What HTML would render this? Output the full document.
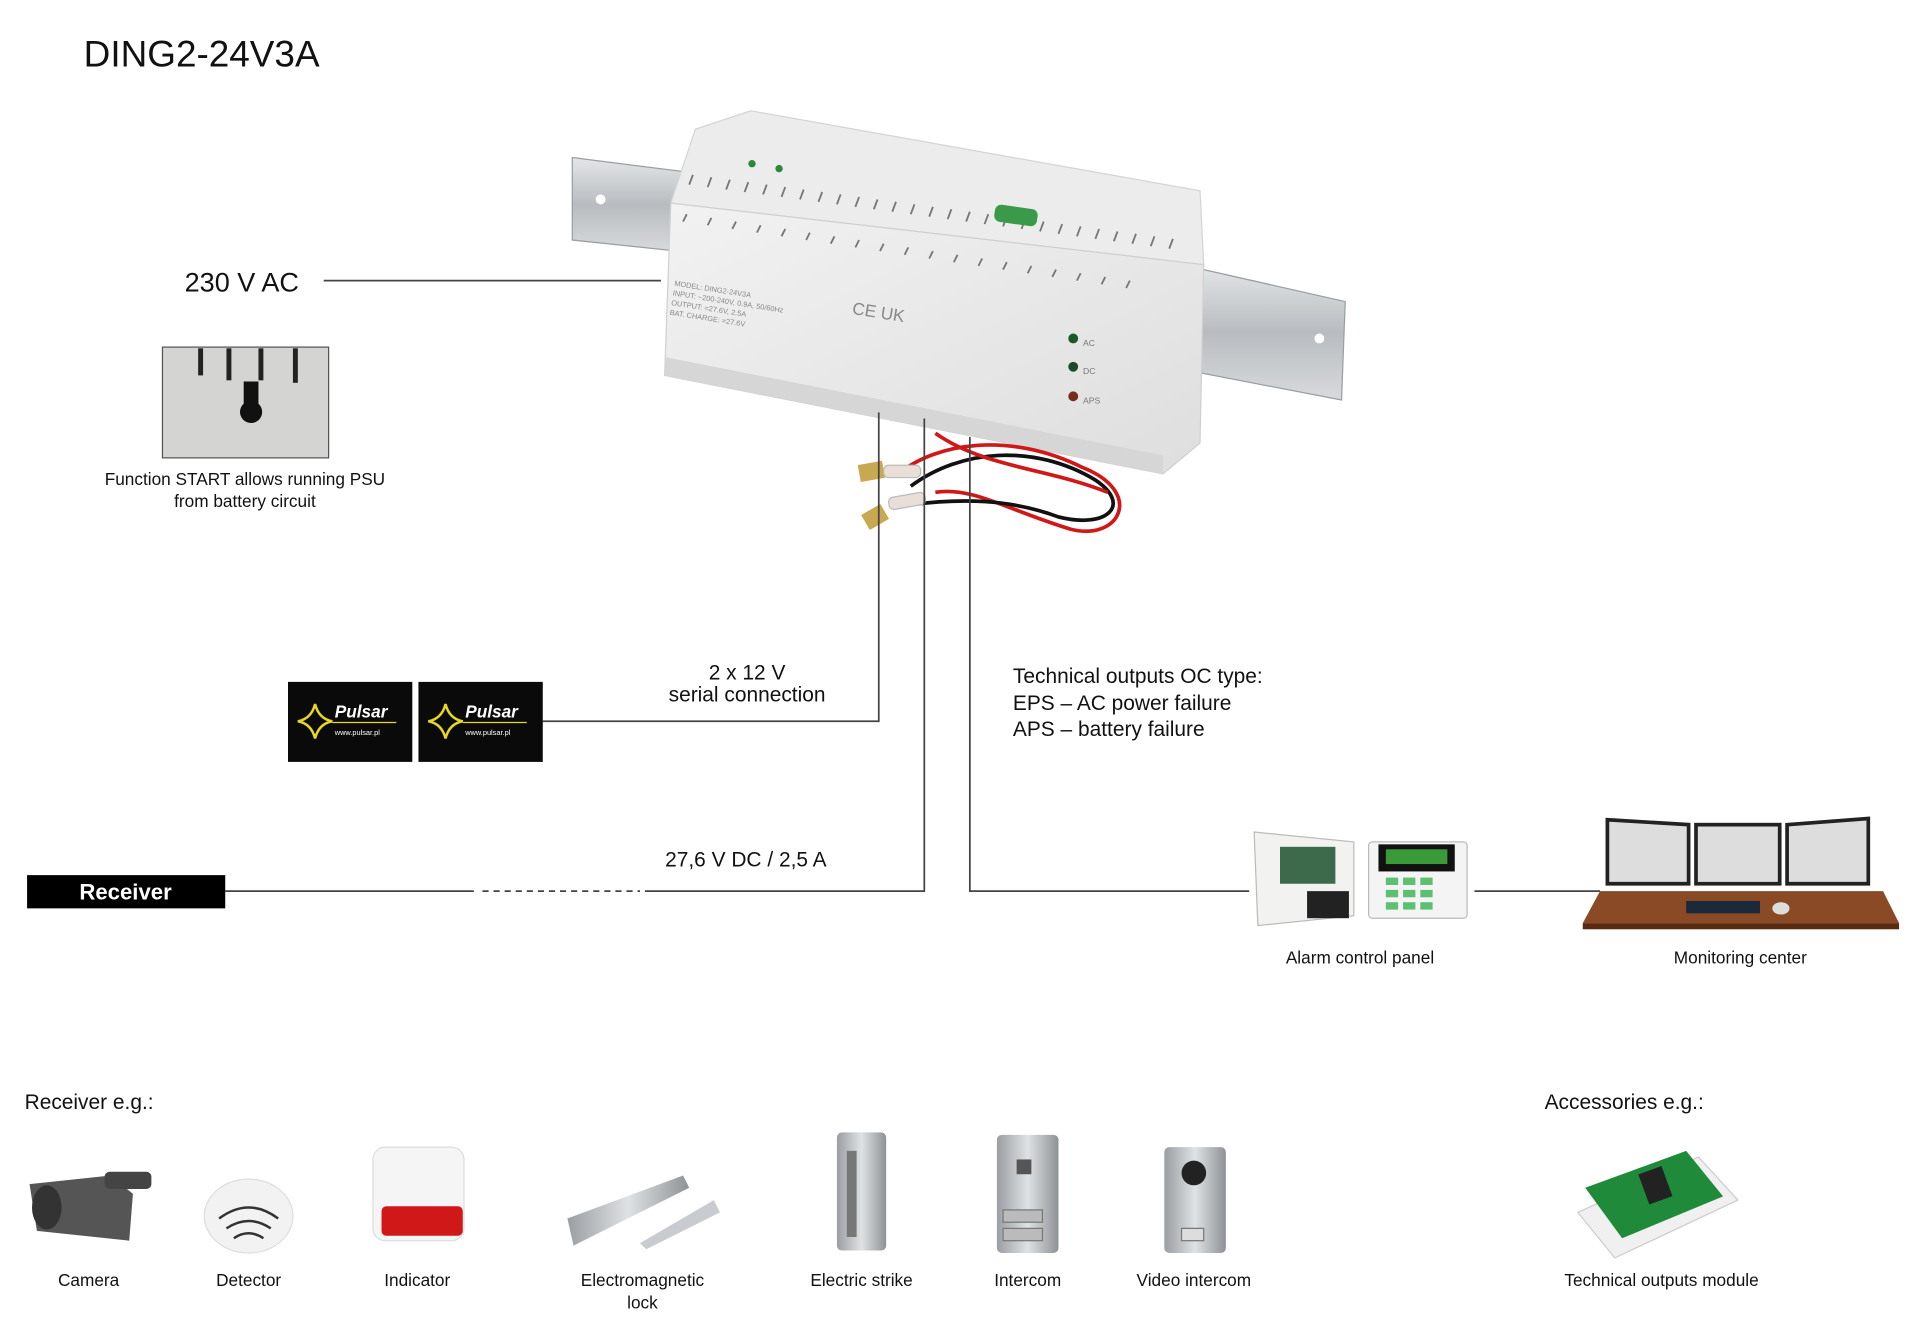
<!DOCTYPE html>
<html><head><meta charset="utf-8"><style>
html,body{margin:0;padding:0;background:#fff;}
svg{display:block;}
text{font-family:"Liberation Sans",sans-serif;fill:#111;}
</style></head><body>
<svg width="1920" height="1317" viewBox="0 0 1560 1070" preserveAspectRatio="none" xmlns="http://www.w3.org/2000/svg">
<defs>
<linearGradient id="rail" x1="0" y1="0" x2="0" y2="1"><stop offset="0" stop-color="#e4e6e8"/><stop offset=".5" stop-color="#b8bcc0"/><stop offset="1" stop-color="#d8dadc"/></linearGradient>
<linearGradient id="body" x1="0" y1="0" x2="1" y2="1"><stop offset="0" stop-color="#f2f2f2"/><stop offset="1" stop-color="#dedede"/></linearGradient>
<linearGradient id="metal" x1="0" y1="0" x2="1" y2="0"><stop offset="0" stop-color="#9a9ea2"/><stop offset=".5" stop-color="#dfe2e4"/><stop offset="1" stop-color="#8e9296"/></linearGradient>
</defs>
<text x="68" y="54" font-size="30">DING2-24V3A</text>

<!-- DIN rail -->
<polygon points="465,128 560,140 560,205 465,195" fill="url(#rail)" stroke="#9a9ea2"/>
<polygon points="960,215 1093,245 1090,325 960,300" fill="url(#rail)" stroke="#9a9ea2"/>
<circle cx="488" cy="162" r="4" fill="#fff"/><circle cx="1072" cy="275" r="4" fill="#fff"/>
<!-- PSU body -->
<polygon points="565,105 610,90 975,155 978,215 545,165" fill="#ececec" stroke="#d4d4d4"/>
<polygon points="545,165 978,215 975,360 945,385 540,305" fill="url(#body)" stroke="#d0d0d0"/>
<polygon points="540,290 945,370 945,385 540,305" fill="#d6d6d6"/>
<g stroke="#777" stroke-width="1.5">
<path d="M560,150 l3,-8 M575,152 l3,-8 M590,154 l3,-8 M605,156 l3,-8 M620,158 l3,-8 M635,160 l3,-8 M650,162 l3,-8 M665,164 l3,-8 M680,166 l3,-8 M695,168 l3,-8 M710,170 l3,-8 M725,172 l3,-8 M740,174 l3,-8 M755,176 l3,-8 M770,178 l3,-8 M785,180 l3,-8 M800,182 l3,-8 M815,184 l3,-8 M830,186 l3,-8 M845,188 l3,-8 M860,190 l3,-8 M875,192 l3,-8 M890,194 l3,-8 M905,196 l3,-8 M920,198 l3,-8 M935,200 l3,-8 M950,202 l3,-8"/>
<path d="M555,180 l3,-6 M575,183 l3,-6 M595,186 l3,-6 M615,189 l3,-6 M635,192 l3,-6 M655,195 l3,-6 M675,198 l3,-6 M695,201 l3,-6 M715,204 l3,-6 M735,207 l3,-6 M755,210 l3,-6 M775,213 l3,-6 M795,216 l3,-6 M815,219 l3,-6 M835,222 l3,-6 M855,225 l3,-6 M875,228 l3,-6 M895,231 l3,-6 M915,234 l3,-6"/>
</g>
<rect x="808" y="168" width="35" height="14" rx="5" fill="#3a9a4a" transform="rotate(8 825 175)"/>
<circle cx="611" cy="133" r="3" fill="#2a8a3a"/><circle cx="633" cy="137" r="3" fill="#2a8a3a"/>
<circle cx="872" cy="275" r="4" fill="#1a5a2a"/><circle cx="872" cy="298" r="4" fill="#1a4a2a"/><circle cx="872" cy="322" r="4" fill="#7a2a1a"/>
<g font-size="7" fill="#777"><text x="880" y="281" style="fill:#777">AC</text><text x="880" y="304" style="fill:#777">DC</text><text x="880" y="328" style="fill:#777">APS</text></g>
<g font-size="6" transform="rotate(9 548 230)"><text x="548" y="232" style="fill:#888">MODEL: DING2-24V3A</text><text x="548" y="240" style="fill:#888">INPUT: ~200-240V, 0.9A, 50/60Hz</text><text x="548" y="248" style="fill:#888">OUTPUT: =27.6V, 2.5A</text><text x="548" y="256" style="fill:#888">BAT. CHARGE: =27.6V</text></g>
<text x="692" y="255" font-size="14" style="fill:#888" transform="rotate(9 692 255)">CE UK</text>
<!-- wires -->
<g fill="none" stroke-width="3">
<path d="M730,385 C760,360 820,350 880,380 C930,400 910,440 870,430 C820,415 790,395 760,400" stroke="#d01818"/>
<path d="M740,395 C780,365 840,360 890,390 C920,410 900,430 860,420 C820,405 780,405 740,410" stroke="#111"/>
<path d="M760,352 C800,380 850,380 900,400" stroke="#d01818"/>
</g>
<rect x="698" y="376" width="20" height="14" fill="#c8a850" transform="rotate(-10 708 383)"/>
<rect x="702" y="413" width="18" height="14" fill="#c8a850" transform="rotate(-30 711 420)"/>
<rect x="718" y="378" width="30" height="10" rx="4" fill="#e8e0d8" stroke="#bbb"/>
<rect x="722" y="402" width="30" height="10" rx="4" fill="#e8e0d8" stroke="#bbb" transform="rotate(-10 737 407)"/>

<!-- connectors -->
<g stroke="#444" stroke-width="1.4" fill="none">
<line x1="263" y1="228" x2="537" y2="228"/>
<polyline points="441,586 714,586 714,335"/>
<polyline points="751,340 751,724 524,724"/>
<line x1="183" y1="724" x2="385" y2="724"/>
<line x1="392" y1="724" x2="520" y2="724" stroke-dasharray="5,4"/>
<polyline points="788,355 788,724 1015,724"/>
<line x1="1198" y1="724" x2="1300" y2="724"/>
</g>

<text x="150" y="237" font-size="22">230 V AC</text>
<!-- START image -->
<rect x="132" y="282" width="135" height="90" fill="#d4d4d2" stroke="#555"/>
<g fill="#222"><rect x="161" y="283" width="4" height="22"/><rect x="184" y="283" width="4" height="26"/><rect x="210" y="283" width="4" height="26"/><rect x="238" y="283" width="4" height="28"/></g>
<path d="M198,310 h12 v18 a9,9 0 1 1 -12,0 z" fill="#111"/>
<text x="199" y="394" font-size="14" text-anchor="middle">Function START allows running PSU</text>
<text x="199" y="412" font-size="14" text-anchor="middle">from battery circuit</text>

<!-- batteries -->
<g>
<rect x="234" y="554" width="101" height="65" fill="#0a0a0a"/>
<rect x="340" y="554" width="101" height="65" fill="#0a0a0a"/>
<g fill="none" stroke="#e8d820" stroke-width="2"><path d="M256,572 q3,12 14,14 q-11,2 -14,14 q-3,-12 -14,-14 q11,-2 14,-14z"/><path d="M362,572 q3,12 14,14 q-11,2 -14,14 q-3,-12 -14,-14 q11,-2 14,-14z"/></g>
<text x="272" y="583" font-size="14" font-weight="bold" font-style="italic" style="fill:#fff">Pulsar</text>
<text x="378" y="583" font-size="14" font-weight="bold" font-style="italic" style="fill:#fff">Pulsar</text>
<line x1="270" y1="587" x2="322" y2="587" stroke="#e8d820"/><line x1="376" y1="587" x2="428" y2="587" stroke="#e8d820"/>
<text x="272" y="597" font-size="6" style="fill:#fff">www.pulsar.pl</text><text x="378" y="597" font-size="6" style="fill:#fff">www.pulsar.pl</text>
</g>
<text x="607" y="552" font-size="17" text-anchor="middle">2 x 12 V</text>
<text x="607" y="570" font-size="17" text-anchor="middle">serial connection</text>
<text x="823" y="555" font-size="17">Technical outputs OC type:</text>
<text x="823" y="577" font-size="17">EPS – AC power failure</text>
<text x="823" y="598" font-size="17">APS – battery failure</text>
<text x="606" y="704" font-size="17" text-anchor="middle">27,6 V DC / 2,5 A</text>

<rect x="22" y="711" width="161" height="27" fill="#000"/>
<text x="102" y="731" font-size="18" font-weight="bold" text-anchor="middle" style="fill:#fff">Receiver</text>

<!-- alarm panel -->
<polygon points="1019,676 1100,684 1100,744 1022,752" fill="#f2f2f0" stroke="#bbb"/>
<rect x="1040" y="688" width="45" height="30" fill="#3d6a4a"/>
<rect x="1062" y="724" width="34" height="22" fill="#222"/>
<rect x="1112" y="684" width="80" height="62" rx="3" fill="#f4f4f4" stroke="#bbb"/>
<rect x="1120" y="686" width="62" height="22" fill="#111"/><rect x="1126" y="690" width="50" height="12" fill="#3a9a3a"/>
<g fill="#5cc070"><rect x="1126" y="713" width="10" height="6"/><rect x="1140" y="713" width="10" height="6"/><rect x="1154" y="713" width="10" height="6"/><rect x="1126" y="723" width="10" height="6"/><rect x="1140" y="723" width="10" height="6"/><rect x="1154" y="723" width="10" height="6"/><rect x="1126" y="733" width="10" height="6"/><rect x="1140" y="733" width="10" height="6"/><rect x="1154" y="733" width="10" height="6"/></g>
<text x="1105" y="783" font-size="14" text-anchor="middle">Alarm control panel</text>
<!-- monitoring -->
<polygon points="1300,724 1530,724 1543,750 1286,750" fill="#8a4a25"/>
<rect x="1286" y="750" width="257" height="5" fill="#5a2a10"/>
<g fill="#ddd" stroke="#222" stroke-width="3"><polygon points="1306,666 1372,670 1372,718 1306,718"/><rect x="1378" y="670" width="68" height="48"/><polygon points="1452,670 1518,665 1518,718 1452,718"/></g>
<rect x="1370" y="732" width="60" height="10" fill="#1a2a3a"/><ellipse cx="1447" cy="738" rx="7" ry="5" fill="#ddd"/>
<text x="1414" y="783" font-size="14" text-anchor="middle">Monitoring center</text>

<text x="20" y="901" font-size="17">Receiver e.g.:</text>
<text x="1255" y="901" font-size="17">Accessories e.g.:</text>

<!-- icons -->
<g>
<!-- camera -->
<polygon points="24,962 90,955 108,970 105,1008 30,1000" fill="#555"/>
<ellipse cx="38" cy="981" rx="12" ry="18" fill="#333"/>
<rect x="85" y="952" width="38" height="14" rx="4" fill="#444"/>
<!-- detector -->
<ellipse cx="202" cy="988" rx="36" ry="30" fill="#f2f2f2" stroke="#ddd"/>
<g stroke="#333" stroke-width="2" fill="none"><path d="M178,990 q24,-18 48,0"/><path d="M184,998 q18,-12 36,0"/><path d="M190,1006 q12,-8 24,0"/></g>
<!-- indicator -->
<rect x="303" y="932" width="74" height="76" rx="10" fill="#f5f5f5" stroke="#ddd"/>
<rect x="310" y="980" width="66" height="24" rx="4" fill="#d01818"/>
<!-- EM lock -->
<polygon points="461,990 555,955 560,965 466,1012" fill="url(#metal)"/>
<polygon points="520,1010 580,975 585,985 525,1015" fill="#c8cbcf"/>
<!-- strike -->
<rect x="680" y="920" width="40" height="96" rx="4" fill="url(#metal)"/>
<rect x="688" y="935" width="8" height="70" fill="#777"/>
<!-- intercom -->
<rect x="810" y="922" width="50" height="96" rx="4" fill="url(#metal)"/>
<g fill="#555"><rect x="826" y="942" width="12" height="12"/></g>
<rect x="815" y="983" width="32" height="10" fill="#bbb" stroke="#777"/><rect x="815" y="998" width="32" height="10" fill="#bbb" stroke="#777"/>
<!-- video intercom -->
<rect x="946" y="932" width="50" height="86" rx="4" fill="url(#metal)"/>
<circle cx="970" cy="953" r="10" fill="#222"/><rect x="960" y="998" width="18" height="10" fill="#ddd" stroke="#777"/>
<!-- tech module -->
<polygon points="1282,985 1380,940 1412,975 1312,1022" fill="#f0f0f0" stroke="#ccc"/>
<polygon points="1288,965 1370,935 1400,972 1318,1006" fill="#1e8a3a"/>
<rect x="1335" y="950" width="20" height="26" fill="#222" transform="rotate(-20 1345 963)"/>
</g>

<g font-size="14" text-anchor="middle">
<text x="72" y="1045">Camera</text>
<text x="202" y="1045">Detector</text>
<text x="339" y="1045">Indicator</text>
<text x="522" y="1045">Electromagnetic</text>
<text x="522" y="1063">lock</text>
<text x="700" y="1045">Electric strike</text>
<text x="835" y="1045">Intercom</text>
<text x="970" y="1045">Video intercom</text>
<text x="1350" y="1045">Technical outputs module</text>
</g>
</svg>
</body></html>
